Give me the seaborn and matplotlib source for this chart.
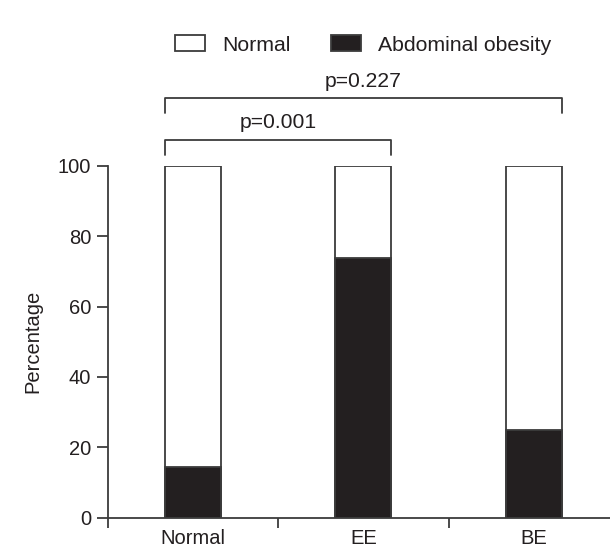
import matplotlib.pyplot as plt
import seaborn as sns
import pandas as pd
from matplotlib.patches import Patch

# data (percent of each group)
groups = ["Normal", "EE", "BE"]
total_pct = [100, 100, 100]
obese_pct = [14.5, 73.7, 25.0]
legend_labels = ["Normal", "Abdominal obesity"]
p_labels = ["p=0.001", "p=0.227"]

df = pd.DataFrame({"group": groups, "total": total_pct, "obese": obese_pct})

sns.set_style("ticks")
plt.rcParams['font.family'] = ['Liberation Sans', 'DejaVu Sans']
plt.rcParams['font.size'] = 14.5

ink = "#231f20"
edge = "#3c3c3c"
bw = 0.33

fig = plt.figure(figsize=(6.1, 5.5), dpi=100)
ax = fig.add_axes([107.7 / 610, 1 - 517.7 / 550, (619 - 107.7) / 610, 352 / 550])

# white full bars, then black obesity part at the bottom
sns.barplot(data=df, x="group", y="total", color="white", edgecolor=edge,
            linewidth=1.3, width=bw, ax=ax, saturation=1)
sns.barplot(data=df, x="group", y="obese", color=ink, edgecolor=edge,
            linewidth=1.3, width=bw, ax=ax, saturation=1)

ax.set_xlim(-0.5, 2.5)
ax.set_ylim(0, 100)
ax.set_yticks([0, 20, 40, 60, 80, 100])
ax.set_xlabel("")
ax.set_ylabel("Percentage", fontsize=14.5, color=ink)
ax.yaxis.set_label_coords(-0.128, 0.5)

# ticks at group boundaries, labels at centres
ax.set_xticks([0, 1, 2])
ax.set_xticks([-0.5, 0.5, 1.5, 2.5], minor=True)
ax.tick_params(axis="x", which="major", length=0, pad=8, labelsize=14.5, colors=ink)
ax.tick_params(axis="x", which="minor", length=7, width=1.3, color=edge)
ax.tick_params(axis="y", length=8, width=1.3, color=edge, labelsize=14.5,
               labelcolor=ink, pad=4)

for s in ["left", "bottom"]:
    ax.spines[s].set_linewidth(1.3)
    ax.spines[s].set_color(edge)
sns.despine(ax=ax)

# significance brackets
h = bw / 2
brackets = [(0 - h, 1 + h, 107.3, 103.0, 112.2, p_labels[0]),
            (0 - h, 2 + h, 119.2, 115.1, 123.9, p_labels[1])]
for x0, x1, ytop, ybot, ytxt, lab in brackets:
    ax.plot([x0, x0, x1, x1], [ybot, ytop, ytop, ybot], color=edge,
            linewidth=1.3, clip_on=False)
    ax.text((x0 + x1) / 2, ytxt, lab, ha="center", va="center",
            fontsize=15.2, color=ink, clip_on=False)

handles = [Patch(facecolor="white", edgecolor=edge, linewidth=1.3),
           Patch(facecolor=ink, edgecolor=edge, linewidth=1.3)]
fig.legend(handles, legend_labels, loc="center", bbox_to_anchor=(363 / 610, 1 - 45 / 550),
           ncol=2, frameon=False, fontsize=15.3, handlelength=1.4, handleheight=0.72,
           handletextpad=0.8, columnspacing=1.9, labelcolor=ink)

fig.savefig("out.png", dpi=100)
